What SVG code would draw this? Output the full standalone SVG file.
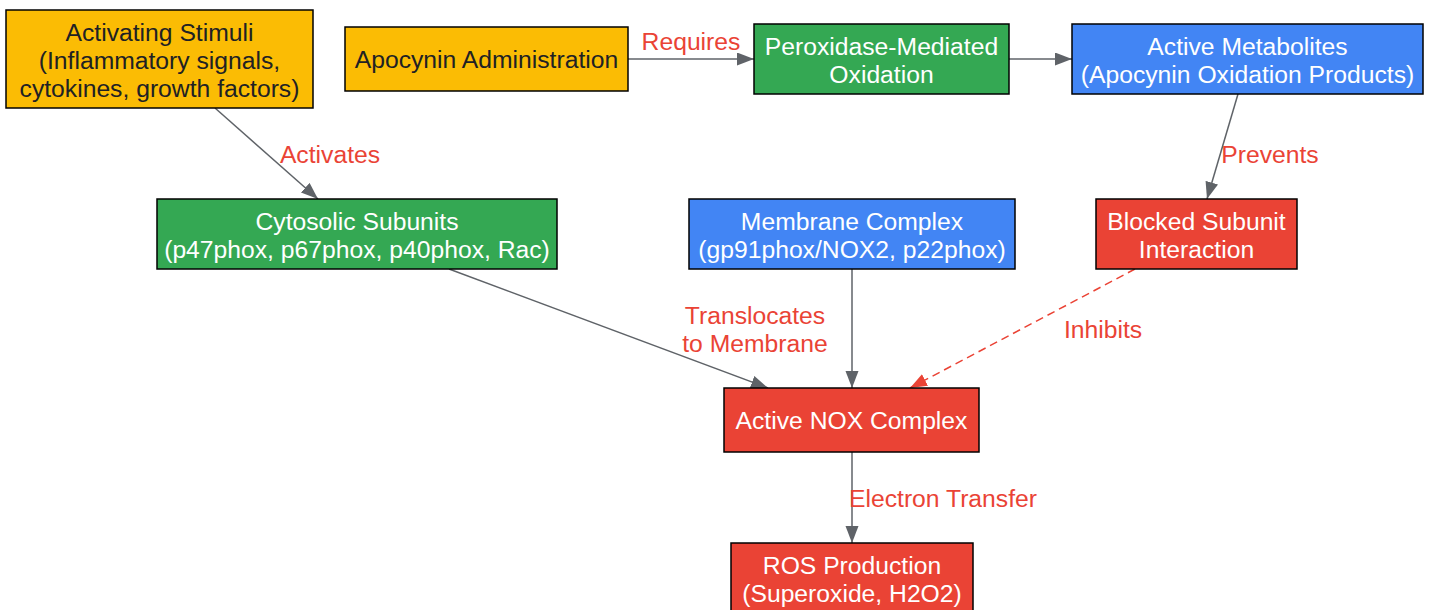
<svg xmlns="http://www.w3.org/2000/svg" width="1431" height="610" viewBox="0 0 1431 610">
<style>
.n{stroke:#000;stroke-width:1.5}
.y{fill:#FBBC04}.g{fill:#34A853}.b{fill:#4285F4}.r{fill:#EA4335}
text{font-family:"Liberation Sans",Arial,sans-serif;font-size:24.7px;text-anchor:middle}
.dk{fill:#202124}.wt{fill:#fff}
.lb{fill:#EA4335}
.e{stroke:#5F6368;stroke-width:1.5;fill:none}
.d{stroke:#EA4335;stroke-width:1.5;fill:none;stroke-dasharray:8,5}
</style>
<defs>
<marker id="ag" markerUnits="userSpaceOnUse" markerWidth="18" markerHeight="14" refX="17" refY="6.5" orient="auto"><path d="M0,0 L17,6.5 L0,13 z" fill="#5F6368"/></marker>
<marker id="ar" markerUnits="userSpaceOnUse" markerWidth="18" markerHeight="14" refX="17" refY="6.5" orient="auto"><path d="M0,0 L17,6.5 L0,13 z" fill="#EA4335"/></marker>
</defs>
<rect width="1431" height="610" fill="#fff"/>
<g id="connectors">
<line class="e" x1="628" y1="59" x2="754" y2="59" marker-end="url(#ag)"/>
<line class="e" x1="1009" y1="59" x2="1072" y2="59" marker-end="url(#ag)"/>
<line class="e" x1="215" y1="108" x2="318" y2="199" marker-end="url(#ag)"/>
<line class="e" x1="1238" y1="94" x2="1207" y2="199" marker-end="url(#ag)"/>
<line class="e" x1="449" y1="269" x2="768" y2="388" marker-end="url(#ag)"/>
<line class="e" x1="852" y1="269" x2="852" y2="388" marker-end="url(#ag)"/>
<line class="d" x1="1135" y1="269" x2="910" y2="388" marker-end="url(#ar)"/>
<line class="e" x1="852" y1="452" x2="852" y2="543" marker-end="url(#ag)"/>
<text class="lb" x="691" y="50">Requires</text>
<text class="lb" x="330" y="163">Activates</text>
<text class="lb" x="1270" y="163">Prevents</text>
<text class="lb" x="755" y="324">Translocates</text>
<text class="lb" x="755" y="352">to Membrane</text>
<text class="lb" x="1103" y="338">Inhibits</text>
<text class="lb" x="943" y="507">Electron Transfer</text>
</g>
<g id="stimuli"><rect class="n y" x="6" y="10" width="307" height="98"/>
<text class="dk" x="159.5" y="41">Activating Stimuli</text>
<text class="dk" x="159.5" y="69">(Inflammatory signals,</text>
<text class="dk" x="159.5" y="97">cytokines, growth factors)</text></g>
<g id="apocynin"><rect class="n y" x="345" y="27" width="283" height="64"/>
<text class="dk" x="486.5" y="68">Apocynin Administration</text></g>
<g id="peroxidase"><rect class="n g" x="754" y="24" width="255" height="70"/>
<text class="wt" x="881.5" y="55">Peroxidase-Mediated</text>
<text class="wt" x="881.5" y="83">Oxidation</text></g>
<g id="metabolites"><rect class="n b" x="1072" y="24" width="351" height="70"/>
<text class="wt" x="1247.5" y="55">Active Metabolites</text>
<text class="wt" x="1247.5" y="83">(Apocynin Oxidation Products)</text></g>
<g id="cytosolic"><rect class="n g" x="157" y="199" width="400" height="70"/>
<text class="wt" x="357" y="230">Cytosolic Subunits</text>
<text class="wt" x="357" y="258">(p47phox, p67phox, p40phox, Rac)</text></g>
<g id="membrane"><rect class="n b" x="689" y="199" width="326" height="70"/>
<text class="wt" x="852" y="230">Membrane Complex</text>
<text class="wt" x="852" y="258">(gp91phox/NOX2, p22phox)</text></g>
<g id="blocked"><rect class="n r" x="1096" y="199" width="201" height="70"/>
<text class="wt" x="1196.5" y="230">Blocked Subunit</text>
<text class="wt" x="1196.5" y="258">Interaction</text></g>
<g id="nox"><rect class="n r" x="724" y="388" width="255" height="64"/>
<text class="wt" x="851.5" y="429">Active NOX Complex</text></g>
<g id="ros"><rect class="n r" x="731" y="543" width="242" height="72"/>
<text class="wt" x="852" y="574">ROS Production</text>
<text class="wt" x="852" y="602">(Superoxide, H2O2)</text></g>
</svg>
